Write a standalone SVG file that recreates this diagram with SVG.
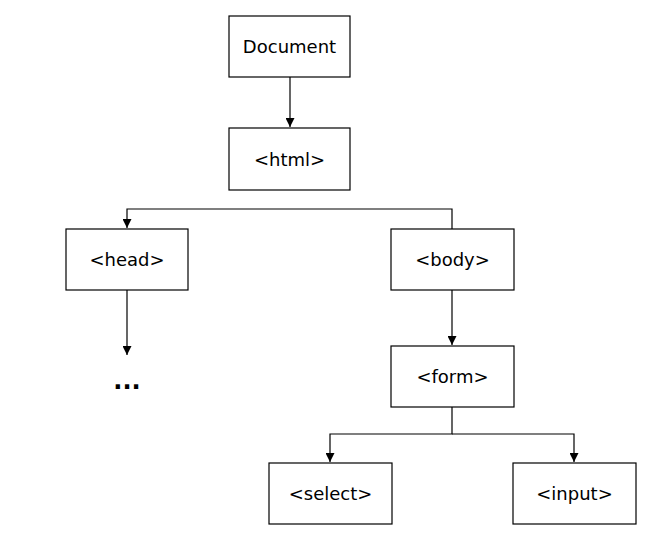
<svg xmlns="http://www.w3.org/2000/svg" width="648" height="550" viewBox="0 0 648 550">
<defs>
<marker id="arr" markerWidth="9" markerHeight="9" refX="9" refY="4.5" orient="auto" markerUnits="userSpaceOnUse">
<path d="M0,0 L9,4.5 L0,9 Z" fill="#000"/>
</marker>
<style>
.box{fill:#fff;stroke:#000;stroke-width:1.2}
.lbl{font-family:"DejaVu Sans",Verdana,sans-serif;font-size:18px;fill:#000;text-anchor:middle;dominant-baseline:central}
.ln{fill:none;stroke:#000;stroke-width:1.2}
</style>
</defs>
<rect width="648" height="550" fill="#fff"/>
<g id="connectors">
<path class="ln" d="M290,77 V127" marker-end="url(#arr)"/>
<path class="ln" d="M452,229 V209 H127 V228" marker-end="url(#arr)"/>
<path class="ln" d="M127,290 V355" marker-end="url(#arr)"/>
<path class="ln" d="M452,290 V345" marker-end="url(#arr)"/>
<path class="ln" d="M452,407 V434 H330 V462" marker-end="url(#arr)"/>
<path class="ln" d="M452,434 H574 V462" marker-end="url(#arr)"/>
</g>
<g id="document"><rect class="box" x="229" y="16" width="121" height="61"/><text class="lbl" x="289.5" y="46.5">Document</text></g>
<g id="html"><rect class="box" x="229" y="128" width="121" height="62"/><text class="lbl" x="289.5" y="159">&lt;html&gt;</text></g>
<g id="head"><rect class="box" x="66" y="229" width="122" height="61"/><text class="lbl" x="127" y="259.5">&lt;head&gt;</text></g>
<g id="body"><rect class="box" x="391" y="229" width="123" height="61"/><text class="lbl" x="452.5" y="259.5">&lt;body&gt;</text></g>
<g id="form"><rect class="box" x="391" y="346" width="123" height="61"/><text class="lbl" x="452.5" y="376.5">&lt;form&gt;</text></g>
<g id="select"><rect class="box" x="269" y="463" width="123" height="61"/><text class="lbl" x="330.5" y="493.5">&lt;select&gt;</text></g>
<g id="input"><rect class="box" x="513" y="463" width="123" height="61"/><text class="lbl" x="574.5" y="493.5">&lt;input&gt;</text></g>
<g id="ellipsis"><text x="127" y="389" style="font-family:'DejaVu Sans',Verdana,sans-serif;font-size:24px;font-weight:bold;text-anchor:middle">...</text></g>
</svg>
